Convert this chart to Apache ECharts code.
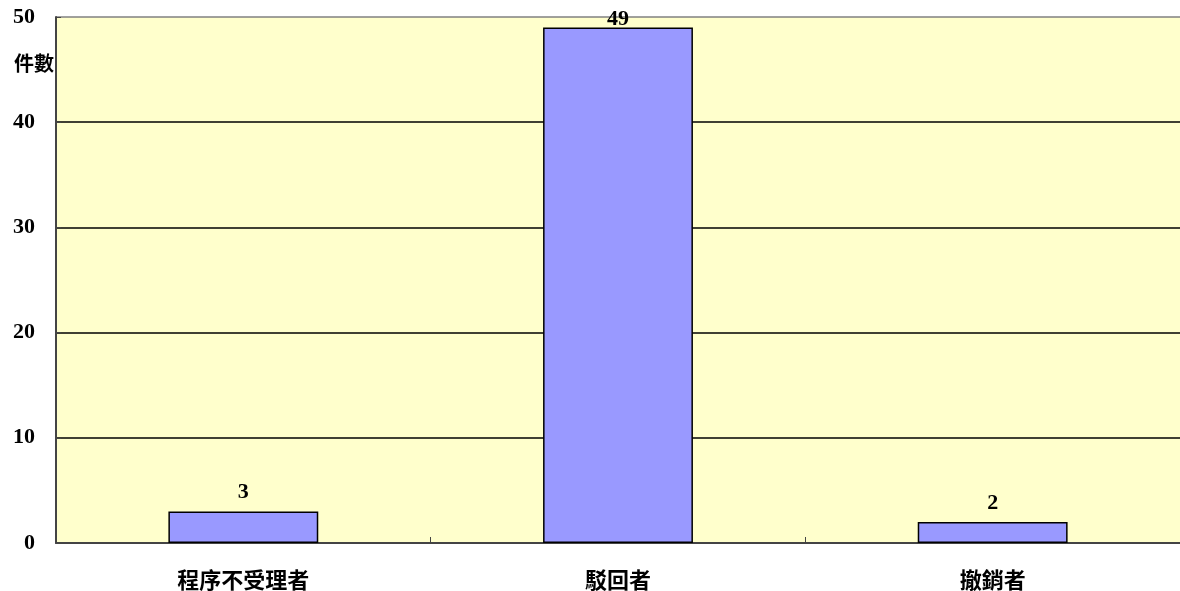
<!DOCTYPE html>
<html>
<head>
<meta charset="utf-8">
<script src="https://cdn.jsdelivr.net/npm/echarts@6/dist/echarts.min.js"></script>
<style>html,body{margin:0;padding:0;background:#fff;}#c{width:1180px;height:591px;}</style>
</head>
<body>
<div id="c"></div>
<script>
var categories = ['程序不受理者', '駁回者', '撤銷者'];
var values = [3, 49, 2];
var yTicks = [0, 10, 20, 30, 40, 50];
var yName = '件數';

var chart = echarts.init(document.getElementById('c'));
var serif = '"Liberation Serif", "DejaVu Serif", serif';
var cjk = '"Noto Sans CJK TC", "Noto Sans CJK SC", sans-serif';

chart.setOption({
  animation: false,
  backgroundColor: '#ffffff',
  grid: { left: 56, right: -4, top: 17, bottom: 44, show: true, backgroundColor: '#FFFFCC', borderWidth: 0 },
  graphic: [{
    type: 'text', left: 14, top: 53,
    style: { text: yName, font: 'bold 20px ' + cjk, fill: '#000' }
  }],
  xAxis: {
    type: 'category',
    data: categories,
    axisLine: { lineStyle: { color: '#444', width: 2 } },
    axisTick: { show: true, length: 6, inside: true, lineStyle: { color: '#444' } },
    axisLabel: { margin: 26, color: '#000', fontFamily: cjk, fontWeight: 'bold', fontSize: 22 }
  },
  yAxis: {
    type: 'value',
    min: yTicks[0], max: yTicks[yTicks.length - 1], interval: 10,
    axisLine: { show: true, lineStyle: { color: '#444', width: 2 } },
    axisTick: { show: true, length: 5, inside: true, lineStyle: { color: '#444' } },
    axisLabel: { margin: 21, color: '#000', fontFamily: serif, fontWeight: 'bold', fontSize: 22 },
    splitLine: { show: true, lineStyle: { color: ['#000', '#000', '#000', '#000', '#000', '#808080'], width: 1.5 } }
  },
  series: [{
    type: 'bar',
    barWidth: '40%',
    data: values.map(function (v, i) {
      return i === 1 ? { value: v, label: { offset: [0, 11] } } : v;
    }),
    itemStyle: { color: '#9999FF', borderColor: '#000', borderWidth: 1.5 },
    label: { show: true, position: 'top', distance: 8, color: '#000', fontFamily: serif, fontWeight: 'bold', fontSize: 22 }
  }]
});
</script>
</body>
</html>
